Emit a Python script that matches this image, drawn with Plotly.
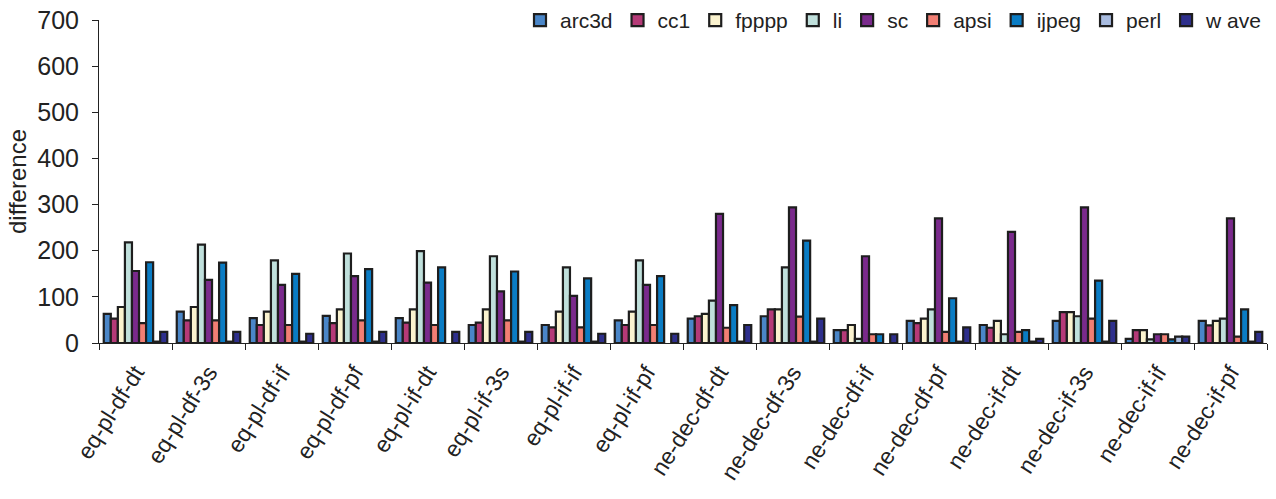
import plotly.graph_objects as go

categories = ["eq-pl-df-dt", "eq-pl-df-3s", "eq-pl-df-if", "eq-pl-df-pf",
              "eq-pl-if-dt", "eq-pl-if-3s", "eq-pl-if-if", "eq-pl-if-pf",
              "ne-dec-df-dt", "ne-dec-df-3s", "ne-dec-df-if", "ne-dec-df-pf",
              "ne-dec-if-dt", "ne-dec-if-3s", "ne-dec-if-if", "ne-dec-if-pf"]

arc3d = [63, 68, 54, 59, 54, 39, 39, 49, 53, 58, 28, 48, 39, 48, 9, 48]
cc1   = [53, 49, 39, 43, 44, 44, 34, 39, 58, 73, 28, 43, 33, 67, 28, 38]
fpppp = [78, 78, 68, 73, 73, 73, 68, 68, 63, 73, 39, 53, 48, 67, 28, 48]
li    = [218, 213, 179, 194, 199, 188, 164, 179, 92, 164, 9, 73, 19, 58, 8, 53]
sc    = [156, 137, 126, 145, 131, 112, 102, 126, 280, 294, 188, 270, 241, 294, 19, 270]
apsi  = [43, 49, 39, 49, 39, 49, 34, 39, 33, 57, 19, 24, 24, 53, 19, 14]
ijpeg = [175, 174, 150, 160, 164, 155, 140, 145, 82, 222, 19, 97, 28, 135, 8, 73]
perl  = [3, 3, 3, 3, None, 3, 3, None, 3, 3, None, 3, 3, 3, 14, 3]
wave  = [24, 24, 20, 24, 24, 24, 20, 20, 39, 53, 19, 34, 9, 48, 14, 24]

series_names = ["arc3d", "cc1", "fpppp", "li", "sc", "apsi", "ijpeg", "perl", "w ave"]
series_values = [arc3d, cc1, fpppp, li, sc, apsi, ijpeg, perl, wave]
colors = ["#4a86c8", "#b53a77", "#fbf3cf", "#c0e0dc", "#7a2a8c",
          "#f27f74", "#0a7cc4", "#a9bce0", "#2e2f8c"]

y_ticks = [0, 100, 200, 300, 400, 500, 600, 700]

fig = go.Figure()
for name, vals, col in zip(series_names, series_values, colors):
    fig.add_trace(go.Bar(
        x=categories, y=vals, name=name,
        marker=dict(color=col, line=dict(color="#1e1e1e", width=2.2)),
    ))

font_family = "Liberation Sans, Arial, sans-serif"
fig.update_layout(
    barmode="group",
    bargap=0.13,
    bargroupgap=0,
    width=1276, height=499,
    margin=dict(l=99, r=9, t=20, b=156, autoexpand=False),
    plot_bgcolor="white", paper_bgcolor="white",
    font=dict(family=font_family, size=22, color="#222222"),
    legend=dict(orientation="h", x=1.0, xanchor="right", y=1.062, yanchor="top",
                font=dict(size=21), bgcolor="rgba(0,0,0,0)",
                itemwidth=30, tracegroupgap=0),
    xaxis=dict(type="category", tickson="boundaries", ticks="outside", ticklen=6,
               tickcolor="#222222", showline=True, linecolor="#222222", linewidth=1,
               tickangle=-58, tickfont=dict(size=23), showgrid=False,
               ticklabelstandoff=6),
    yaxis=dict(range=[0, 700], tickvals=y_ticks, ticks="outside", ticklen=6,
               tickcolor="#222222", showline=True, linecolor="#222222", linewidth=1,
               showgrid=False, zeroline=False, tickfont=dict(size=25),
               ticklabelstandoff=8,
               title=dict(text="difference", font=dict(size=24), standoff=3)),
)

fig.write_html("out.html")
